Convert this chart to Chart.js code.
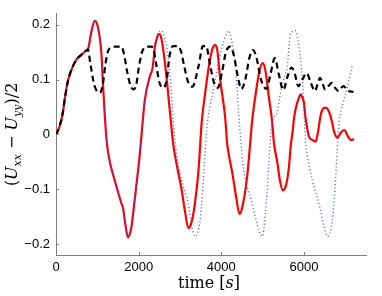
<!DOCTYPE html>
<html>
<head>
<meta charset="utf-8">
<script src="https://cdn.jsdelivr.net/npm/chart.js@4/dist/chart.umd.min.js"></script>
<style>
  html, body { margin: 0; background: #fff; }
  #wrap { width: 382px; height: 296px; }
</style>
</head>
<body>
<div id="wrap"><canvas id="chart"></canvas></div>
<script>
const xTicks = [0, 2000, 4000, 6000];
const yTicks = [-0.2, -0.1, 0, 0.1, 0.2];

// red solid
const redTime = [
  0, 85, 165, 223, 287, 328, 408, 491, 612, 700,
  773, 850, 936, 1016, 1098, 1138, 1219, 1300, 1422, 1584,
  1624, 1680, 1740, 1800, 1827, 1880, 1949, 2029, 2070, 2151,
  2272, 2337, 2394, 2450, 2498, 2550, 2637, 2758, 2840, 2920,
  3042, 3120, 3203, 3260, 3325, 3446, 3528, 3600, 3700, 3780,
  3845, 3900, 3973, 4095, 4136, 4200, 4258, 4350, 4440, 4500,
  4622, 4702, 4743, 4824, 4920, 5001, 5070, 5147, 5229, 5269,
  5350, 5420, 5488, 5553, 5634, 5680, 5716, 5760, 5796, 5877,
  5918, 5960, 5998, 6039, 6080, 6120, 6200, 6282, 6340, 6403,
  6460, 6525, 6590, 6646, 6690, 6727, 6809, 6889, 6970, 7010,
  7052, 7132, 7213
];
const redValues = [
  0, 0.014, 0.04, 0.07, 0.097, 0.108, 0.124, 0.136, 0.145, 0.151,
  0.155, 0.185, 0.207, 0.195, 0.148, 0.09, -0.007, -0.049, -0.084, -0.126,
  -0.135, -0.165, -0.188, -0.178, -0.168, -0.135, -0.09, -0.035, 0.0, 0.064,
  0.106, 0.121, 0.16, 0.178, 0.183, 0.175, 0.13, 0.04, -0.02, -0.055,
  -0.102, -0.14, -0.171, -0.165, -0.144, -0.067, 0.025, 0.07, 0.125, 0.155,
  0.163, 0.155, 0.1, 0.029, -0.013, -0.045, -0.067, -0.11, -0.145, -0.135,
  -0.079, -0.013, 0.023, 0.07, 0.115, 0.13, 0.115, 0.07, 0.023, -0.013,
  -0.049, -0.085, -0.102, -0.096, -0.061, -0.02, 0.0, 0.03, 0.046, 0.067,
  0.073, 0.068, 0.058, 0.029, 0.01, -0.004, -0.01, -0.013, 0.005, 0.035,
  0.047, 0.049, 0.044, 0.032, 0.018, 0.005, -0.006, 0.003, 0.008, 0.005,
  -0.002, -0.01, -0.009
];

// black dashed
const blackTime = [
  0, 85, 165, 223, 287, 328, 408, 491, 612, 700,
  773, 830, 900, 960, 1057, 1130, 1200, 1260, 1300, 1450,
  1584, 1650, 1720, 1800, 1866, 1940, 2000, 2080, 2192, 2300,
  2360, 2420, 2500, 2595, 2680, 2740, 2832, 2950, 3030, 3100,
  3200, 3300, 3450, 3553, 3633, 3720, 3820, 3917, 4020, 4110,
  4220, 4300, 4400, 4484, 4580, 4680, 4767, 4850, 4960, 5091,
  5190, 5293, 5390, 5497, 5600, 5699, 5780, 5861, 5960, 6063,
  6160, 6265, 6330, 6387, 6450, 6508, 6590, 6671, 6750, 6833,
  6900, 6955, 7050, 7197
];
const blackValues = [
  0, 0.014, 0.04, 0.07, 0.097, 0.108, 0.124, 0.136, 0.145, 0.151,
  0.155, 0.13, 0.099, 0.083, 0.076, 0.09, 0.13, 0.152, 0.157, 0.16,
  0.16, 0.145, 0.115, 0.09, 0.082, 0.09, 0.12, 0.15, 0.16, 0.16,
  0.155, 0.13, 0.095, 0.085, 0.1, 0.14, 0.161, 0.161, 0.15, 0.125,
  0.095, 0.087, 0.125, 0.161, 0.161, 0.13, 0.095, 0.085, 0.115, 0.15,
  0.16, 0.145, 0.105, 0.083, 0.1, 0.14, 0.154, 0.14, 0.1, 0.083,
  0.11, 0.139, 0.11, 0.081, 0.105, 0.122, 0.11, 0.088, 0.1, 0.112,
  0.095, 0.079, 0.092, 0.103, 0.093, 0.082, 0.088, 0.094, 0.085, 0.079,
  0.085, 0.088, 0.08, 0.0775
];

// blue dotted
const blueTime = [
  0, 85, 165, 223, 287, 328, 408, 491, 612, 700,
  773, 850, 936, 1016, 1098, 1138, 1219, 1300, 1422, 1584,
  1624, 1680, 1740, 1800, 1827, 1880, 1949, 2029, 2070, 2151,
  2272, 2337, 2394, 2450, 2556, 2620, 2678, 2740, 2799, 2839,
  2921, 3000, 3082, 3203, 3285, 3366, 3420, 3487, 3550, 3609,
  3660, 3730, 3830, 3933, 4020, 4095, 4176, 4250, 4338, 4419,
  4500, 4581, 4662, 4743, 4905, 4986, 5067, 5147, 5188, 5229,
  5350, 5431, 5512, 5594, 5674, 5796, 5877, 5958, 6039, 6080,
  6201, 6362, 6484, 6566, 6687, 6751, 6848, 6889, 7052, 7173
];
const blueValues = [
  0, 0.014, 0.04, 0.07, 0.097, 0.108, 0.124, 0.136, 0.145, 0.151,
  0.155, 0.185, 0.207, 0.195, 0.148, 0.09, -0.007, -0.049, -0.084, -0.126,
  -0.135, -0.165, -0.188, -0.178, -0.168, -0.135, -0.09, -0.035, 0.0, 0.064,
  0.106, 0.121, 0.162, 0.182, 0.189, 0.178, 0.16, 0.12, 0.07, 0.023,
  -0.037, -0.07, -0.096, -0.126, -0.168, -0.186, -0.18, -0.156, -0.1, -0.03,
  0.02, 0.053, 0.09, 0.13, 0.16, 0.178, 0.189, 0.17, 0.13, 0.04,
  -0.037, -0.084, -0.105, -0.126, -0.174, -0.186, -0.144, -0.055, -0.007, 0.023,
  0.04, 0.076, 0.1, 0.124, 0.183, 0.189, 0.16, 0.1, -0.013, -0.037,
  -0.084, -0.126, -0.168, -0.186, -0.156, -0.096, 0.023, 0.04, 0.088, 0.127
];

function toPoints(times, values) {
  return times.map((t, i) => ({ x: t, y: values[i] }));
}

const axisColor = "#7f7f7f";
const tickFont = { family: "Liberation Sans, Arial, sans-serif", size: 13 };
const serif = "DejaVu Serif, serif";

// draws the little inward ticks and the two axis titles (with subscripts)
const axisDecor = {
  id: "axisDecor",
  afterDraw(chart) {
    const { ctx, chartArea, scales } = chart;
    ctx.save();
    ctx.strokeStyle = axisColor;
    ctx.lineWidth = 1;
    xTicks.forEach((v) => {
      const px = Math.round(scales.x.getPixelForValue(v)) + 0.5;
      ctx.beginPath();
      ctx.moveTo(px, chartArea.bottom);
      ctx.lineTo(px, chartArea.bottom - 3);
      ctx.stroke();
    });
    yTicks.forEach((v) => {
      const py = Math.round(scales.y.getPixelForValue(v)) + 0.5;
      ctx.beginPath();
      ctx.moveTo(chartArea.left, py);
      ctx.lineTo(chartArea.left + 3, py);
      ctx.stroke();
    });

    ctx.fillStyle = "#000";
    ctx.textBaseline = "alphabetic";
    ctx.textAlign = "left";

    // x title: time [s]
    const xParts = [
      { t: "time [", font: "16px " + serif, dy: 0 },
      { t: "s", font: "italic 16px " + serif, dy: 0 },
      { t: "]", font: "16px " + serif, dy: 0 },
    ];
    drawParts(ctx, xParts, (chartArea.left + chartArea.right) / 2 - 2, 287.5);

    // y title: (U_xx - U_yy)/2
    const yParts = [
      { t: "(", font: "16px " + serif, dy: 0 },
      { t: "U", font: "italic 16px " + serif, dy: 0 },
      { t: "xx", font: "italic 11px " + serif, dy: 4 },
      { t: " \u2212 ", font: "16px " + serif, dy: 0 },
      { t: "U", font: "italic 16px " + serif, dy: 0 },
      { t: "yy", font: "italic 11px " + serif, dy: 4 },
      { t: ")/2", font: "16px " + serif, dy: 0 },
    ];
    ctx.translate(17, (chartArea.top + chartArea.bottom) / 2);
    ctx.rotate(-Math.PI / 2);
    drawParts(ctx, yParts, 0, 0);
    ctx.restore();
  },
};

function drawParts(ctx, parts, cx, baseY) {
  let total = 0;
  parts.forEach((p) => {
    ctx.font = p.font;
    p.w = ctx.measureText(p.t).width;
    total += p.w;
  });
  let x = cx - total / 2;
  parts.forEach((p) => {
    ctx.font = p.font;
    ctx.fillText(p.t, x, baseY + p.dy);
    x += p.w;
  });
}

new Chart(document.getElementById("chart"), {
  type: "line",
  data: {
    datasets: [
      {
        label: "dashed",
        data: toPoints(blackTime, blackValues),
        borderColor: "#000000",
        borderWidth: 2.2,
        borderDash: [6, 4],
        order: 0,
      },
      {
        label: "dotted",
        data: toPoints(blueTime, blueValues),
        borderColor: "rgba(45, 75, 255, 0.9)",
        borderWidth: 1.4,
        borderDash: [1, 2.5],
        order: 1,
      },
      {
        label: "solid",
        data: toPoints(redTime, redValues),
        borderColor: "#ff0000",
        borderWidth: 2.2,
        order: 2,
      },
    ],
  },
  options: {
    responsive: true,
    maintainAspectRatio: false,
    animation: false,
    elements: {
      point: { radius: 0 },
      line: { cubicInterpolationMode: "monotone", fill: false },
    },
    layout: { padding: { top: 10, right: 16, left: 0, bottom: 0 } },
    plugins: {
      legend: { display: false },
      tooltip: { enabled: false },
    },
    scales: {
      x: {
        type: "linear",
        min: 0,
        max: 7500,
        afterBuildTicks: (s) => { s.ticks = xTicks.map((v) => ({ value: v })); },
        afterFit: (s) => { s.height = 41; },
        grid: { display: false, drawTicks: false },
        border: { display: true, color: axisColor, width: 1 },
        ticks: { color: "#000", font: tickFont, padding: 5, maxRotation: 0, callback: (v) => String(v) },
      },
      y: {
        type: "linear",
        min: -0.22,
        max: 0.22,
        afterBuildTicks: (s) => { s.ticks = yTicks.map((v) => ({ value: v })); },
        afterFit: (s) => { s.width = 56; },
        grid: { display: false, drawTicks: false },
        border: { display: true, color: axisColor, width: 1 },
        ticks: {
          color: "#000",
          font: tickFont,
          padding: 6,
          callback: (v) => (v === 0 ? "0" : (v < 0 ? "\u2212" : "") + Math.abs(v).toFixed(1)),
        },
      },
    },
  },
  plugins: [axisDecor],
});
</script>
</body>
</html>
